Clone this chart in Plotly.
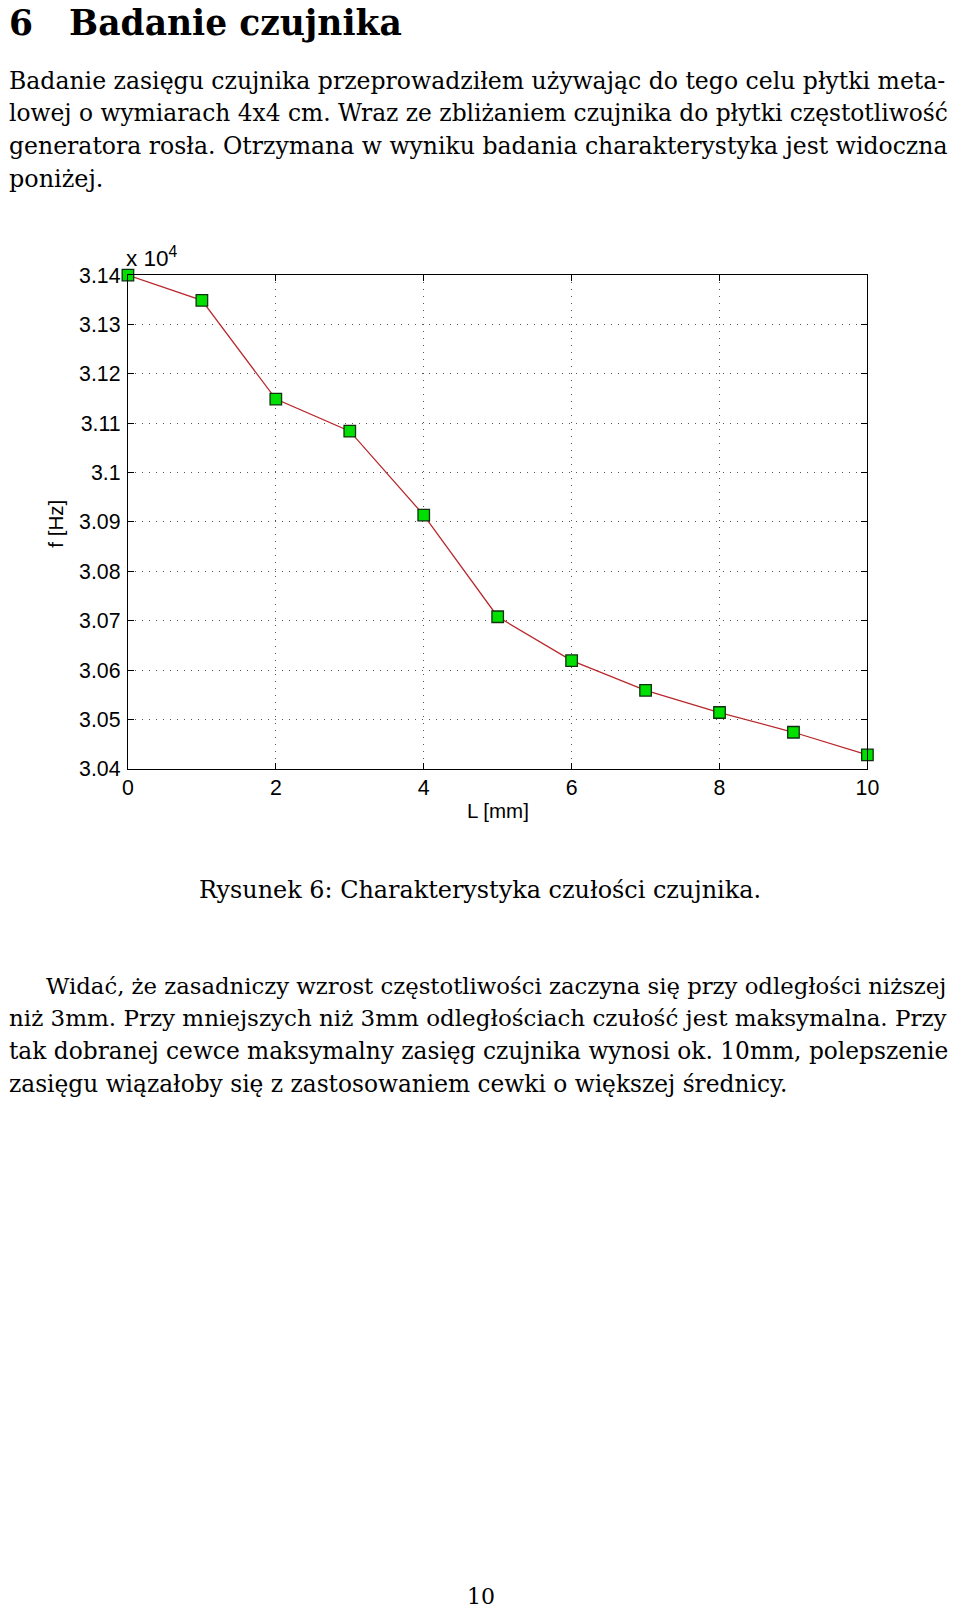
import plotly.graph_objects as go

# ---------------- data ----------------
L_mm = [0, 1, 2, 3, 4, 5, 6, 7, 8, 9, 10]
f_Hz = [31400, 31349, 31149, 31084, 30914, 30708, 30619, 30559, 30514, 30474, 30428]
y_tick_labels = ["3.04", "3.05", "3.06", "3.07", "3.08", "3.09", "3.1",
                 "3.11", "3.12", "3.13", "3.14"]
y_exponent = 4
x_tick_vals = [0, 2, 4, 6, 8, 10]
x_tick_labels = ["0", "2", "4", "6", "8", "10"]
x_title = "L [mm]"
y_title = "f [Hz]"

heading_number = "6"
heading_text = "Badanie czujnika"
para1_lines = [
    "Badanie zasięgu czujnika przeprowadziłem używając do tego celu płytki meta-",
    "lowej o wymiarach 4x4 cm. Wraz ze zbliżaniem czujnika do płytki częstotliwość",
    "generatora rosła. Otrzymana w wyniku badania charakterystyka jest widoczna",
    "poniżej.",
]
caption = "Rysunek 6: Charakterystyka czułości czujnika."
para2_lines = [
    "Widać, że zasadniczy wzrost częstotliwości zaczyna się przy odległości niższej",
    "niż 3mm. Przy mniejszych niż 3mm odległościach czułość jest maksymalna. Przy",
    "tak dobranej cewce maksymalny zasięg czujnika wynosi ok. 10mm, polepszenie",
    "zasięgu wiązałoby się z zastosowaniem cewki o większej średnicy.",
]
page_number = "10"

# ---------------- layout helpers ----------------
# page position -> figure position (compensates page offset/scale of the viewer)
SX, BX = 0.982, 14.0
SY, BY = 0.987, 19.3
W, H = 964, 1613
SERIF = "DejaVu Serif"
SANS = "Liberation Sans"


def px(x):
    return ((x - BX) / SX) / W


def py(y):
    return 1 - ((y - BY) / SY) / H


y_tick_vals = [float(t) * 10 ** y_exponent for t in y_tick_labels]

fig = go.Figure()
fig.add_trace(go.Scatter(
    x=L_mm, y=f_Hz, mode="lines+markers", cliponaxis=False,
    line=dict(color="#b8282c", width=1.3),
    marker=dict(symbol="square", size=11.5, color="#00e000",
                line=dict(color="#103010", width=1.3)),
    showlegend=False, hoverinfo="skip",
))

plot_left, plot_right, plot_top, plot_bottom = 128, 868, 275, 769.5

axis_common = dict(
    showline=True, linecolor="black", linewidth=1.2, mirror="allticks",
    ticks="inside", ticklen=6, tickwidth=1, tickcolor="black",
    showgrid=True, gridcolor="#555555", gridwidth=1, griddash="1px,6px",
    zeroline=False, tickfont=dict(family=SANS, size=21.3, color="black"),
    fixedrange=True,
)

fig.update_layout(
    width=W, height=H, margin=dict(l=0, r=0, t=0, b=0),
    paper_bgcolor="white", plot_bgcolor="white",
    xaxis=dict(domain=[px(plot_left), px(plot_right)], range=[0, 10],
               tickmode="array", tickvals=x_tick_vals, ticktext=x_tick_labels,
               ticklabelstandoff=0, **axis_common),
    yaxis=dict(domain=[py(plot_bottom), py(plot_top)],
               range=[y_tick_vals[0], y_tick_vals[-1]],
               tickmode="array", tickvals=y_tick_vals, ticktext=y_tick_labels,
               ticklabelstandoff=2, **axis_common),
)

ann = []


def text(x, y, s, size, family=SERIF, xanchor="left", yanchor="middle",
         angle=0, bold=False):
    if bold:
        s = "<b>" + s + "</b>"
    ann.append(dict(x=px(x), y=py(y), xref="paper", yref="paper", text=s,
                    showarrow=False, xanchor=xanchor, yanchor=yanchor,
                    textangle=angle, borderpad=0,
                    font=dict(family=family, size=size, color="black")))


# heading
text(8, 22, heading_number, 34.5, bold=True)
text(68, 22, heading_text, 34.5, bold=True)

# paragraph 1
p1_sizes = [23.55, 23.35, 23.55, 23.9]
for i, line in enumerate(para1_lines):
    text(8, 80 + i * 32.8, line, p1_sizes[i])

# chart texts
text(125, 257, "x 10<sup>%d</sup>" % y_exponent, 22.5, family=SANS)
text(498, 811, x_title, 20.5, family=SANS, xanchor="center")
text(56, 524, y_title, 20.5, family=SANS, xanchor="center", angle=-90)

# caption
text(480.5, 891, caption, 23.9, xanchor="center")

# paragraph 2
p2_sizes = [22.75, 23.0, 23.3, 23.3]
for i, line in enumerate(para2_lines):
    text(45 if i == 0 else 8, 987 + i * 32.6, line, p2_sizes[i])

# page number
text(481, 1599, page_number, 22, xanchor="center")

fig.update_layout(annotations=ann)
fig.write_html("out.html")
